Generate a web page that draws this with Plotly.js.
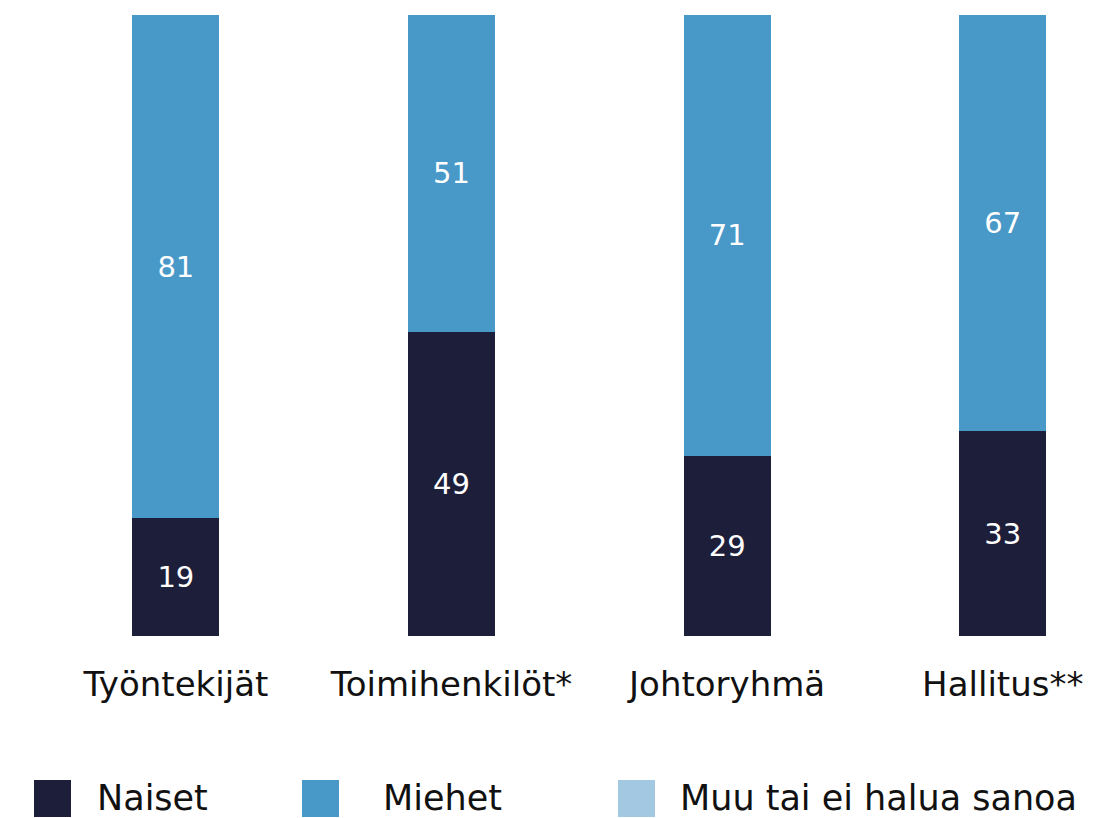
<!DOCTYPE html>
<html>
<head>
<meta charset="utf-8">
<script src="https://cdn.plot.ly/plotly-3.0.1.min.js"></script>
<style>html,body{margin:0;padding:0;background:#fff;}#chart{width:1102px;height:818px;}</style>
</head>
<body>
<div id="chart"></div>
<script>
const categories = ["Työntekijät", "Toimihenkilöt*", "Johtoryhmä", "Hallitus**"];
const naiset = [19, 49, 29, 33];
const miehet = [81, 51, 71, 67];
const muu = [0, 0, 0, 0];
const seriesNames = ["Naiset", "Miehet", "Muu tai ei halua sanoa"];
const colors = ["#1d1e3a", "#4898c8", "#a3c8e1"];
const FONT = "DejaVu Sans, sans-serif";

const series = [naiset, miehet, muu];
const traces = series.map((vals, i) => ({
  type: "bar",
  name: seriesNames[i],
  x: categories,
  y: vals,
  marker: {color: colors[i]},
  width: 0.315,
  text: vals.map(v => v > 0 ? String(v) : ""),
  textposition: "inside",
  insidetextanchor: "middle",
  textfont: {family: FONT, size: 29, color: "#ffffff"},
  hoverinfo: "skip",
  showlegend: false
}));

// legend built as shapes + annotations
const legendX = [34, 302, 618];
const legendTextX = [95, 381, 678];
const shapes = [];
const annotations = [];
const plotTop = 15, plotBottom = 636, plotH = plotBottom - plotTop, W = 1102;
seriesNames.forEach((n, i) => {
  shapes.push({
    type: "rect", xref: "paper", yref: "paper",
    x0: legendX[i] / W, x1: (legendX[i] + 37) / W,
    y0: (plotBottom - 817) / plotH, y1: (plotBottom - 780) / plotH,
    fillcolor: colors[i], line: {width: 0}
  });
  annotations.push({
    xref: "paper", yref: "paper",
    x: legendTextX[i] / W, y: (plotBottom - 798) / plotH,
    xanchor: "left", yanchor: "middle", showarrow: false,
    text: n, font: {family: FONT, size: 35, color: "#111111"}
  });
});

const layout = {
  width: 1102, height: 818,
  margin: {l: 0, r: 0, t: plotTop, b: 818 - plotBottom, pad: 0},
  paper_bgcolor: "#ffffff", plot_bgcolor: "#ffffff",
  barmode: "stack",
  showlegend: false,
  font: {family: FONT, color: "#111111"},
  xaxis: {
    type: "category",
    range: [-0.638, 3.36],
    showgrid: false, zeroline: false, showline: false, ticks: "",
    tickfont: {family: FONT, size: 34, color: "#111111"},
    ticklabelstandoff: 25
  },
  yaxis: {
    range: [0, 100], visible: false, showgrid: false, zeroline: false
  },
  shapes: shapes,
  annotations: annotations
};

Plotly.newPlot("chart", traces, layout, {staticPlot: true, displayModeBar: false});
</script>
</body>
</html>
